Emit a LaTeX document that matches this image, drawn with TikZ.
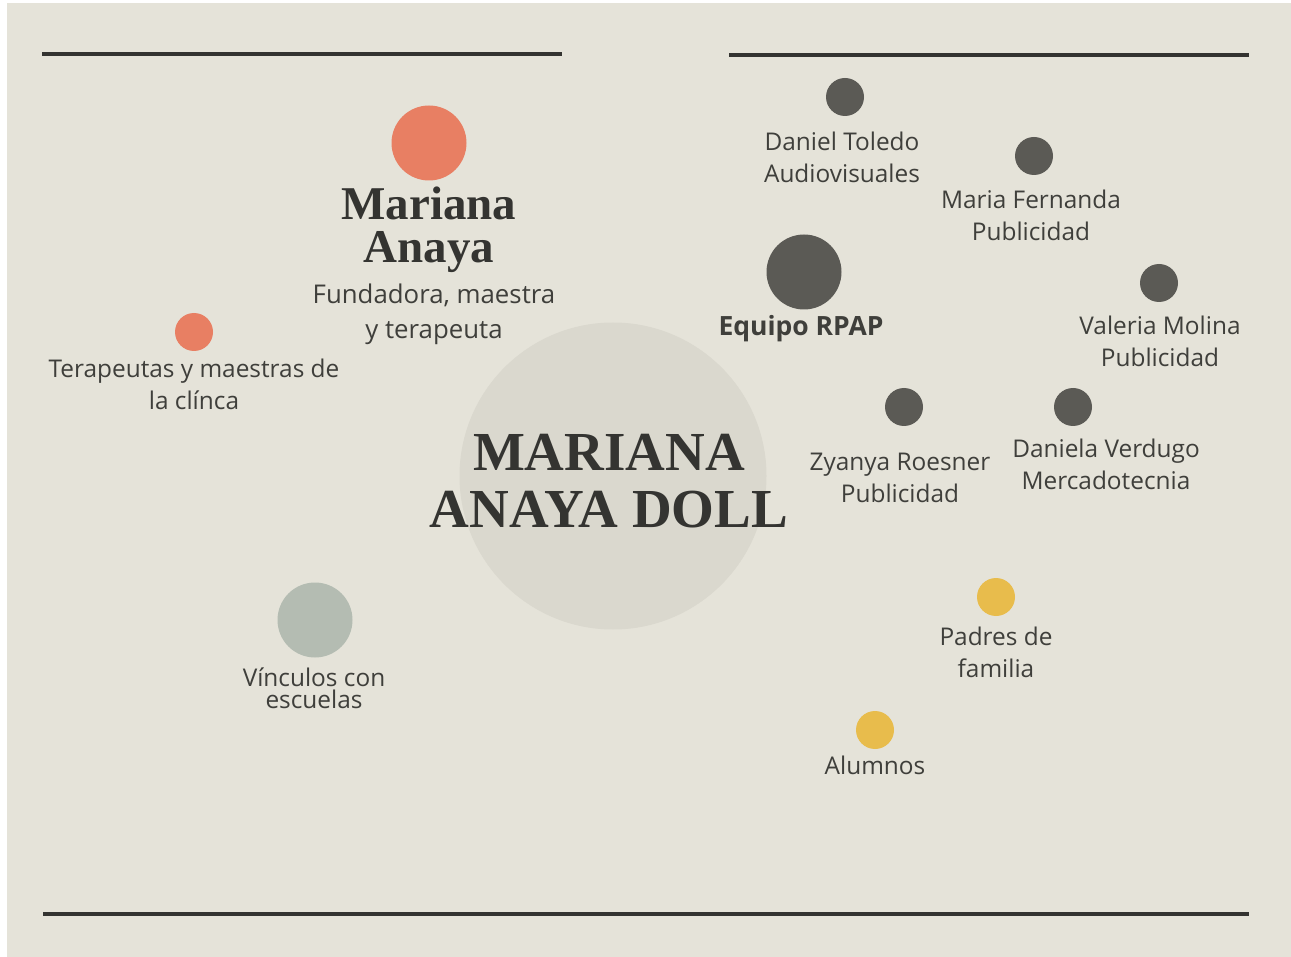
\documentclass[tikz,border=0pt]{standalone}
\usepackage{fontspec}
\setmainfont{Open Sans}
\newfontfamily\serifbold{Liberation Serif}[BoldFont={* Bold}]

\definecolor{paper}{HTML}{E5E3D9}
\definecolor{halo}{HTML}{DAD8CE}
\definecolor{coral}{HTML}{E87F63}
\definecolor{slate}{HTML}{5B5A55}
\definecolor{sage}{HTML}{B4BCB2}
\definecolor{mustard}{HTML}{E8BC4C}
\definecolor{ink}{HTML}{3F3F3B}
\definecolor{rule}{HTML}{343431}

\begin{document}
\begin{tikzpicture}[
    x=1pt,
    y=-1pt,
    dot/.style={
        circle,
        inner sep=0pt,
        minimum size=38pt,
        fill=slate
    },
    bigdot/.style={
        dot,
        minimum size=75pt
    },
    tag/.style={
        align=center,
        inner sep=0pt,
        text=ink,
        font=\fontsize{24.4}{32}\selectfont
    },
    title/.style={
        align=center,
        inner sep=0pt,
        text=rule,
        font=\serifbold\bfseries\fontsize{55}{57}\selectfont
    },
    divider/.style={
        draw=rule,
        line width=4pt
    }
]

% =====================
% Fondo
% =====================
\fill[white] (0,0) rectangle (1291,957);
\fill[paper] (7,3) rectangle (1291,957);
\useasboundingbox (0,0) rectangle (1291,957);

\coordinate (tl1) at (42,54);
\coordinate (tl2) at (562,54);
\coordinate (tr1) at (729,55);
\coordinate (tr2) at (1249,55);
\coordinate (bl1) at (43,914);
\coordinate (bl2) at (1249,914);
\draw[divider] (tl1) -- (tl2);
\draw[divider] (tr1) -- (tr2);
\draw[divider] (bl1) -- (bl2);

% =====================
% Centro
% =====================
\node[circle, fill=halo, minimum size=307pt, inner sep=0pt] (core) at (613,476) {};
\node[title] (name) at (609,481) {MARIANA\\ANAYA DOLL};

% =====================
% Fundadora
% =====================
\node[bigdot, fill=coral] (founderdot) at (429,143) {};
\node[title, font=\serifbold\bfseries\fontsize{47}{43}\selectfont] (founder) at (429,230) {Mariana\\Anaya};
\node[tag, font=\fontsize{25.8}{35}\selectfont] (founderrole) at (434,314) {Fundadora, maestra\\y terapeuta};

\node[dot, fill=coral] (staffdot) at (194,332) {};
\node[tag] (staff) at (194,384) {Terapeutas y maestras de\\la clínca};

\node[bigdot, fill=sage] (schooldot) at (315,620) {};
\node[tag, font=\fontsize{24.4}{22}\selectfont] (school) at (314,688) {Vínculos con\\escuelas};

% =====================
% Equipo RPAP
% =====================
\node[bigdot] (teamdot) at (804,272) {};
\node[tag, font=\bfseries\fontsize{26.5}{32}\selectfont] (team) at (801,329) {Equipo RPAP};

\node[dot] (danieldot) at (845,97) {};
\node[tag] (daniel) at (842,157) {Daniel Toledo\\Audiovisuales};

\node[dot] (mariadot) at (1034,156) {};
\node[tag] (maria) at (1031,215) {Maria Fernanda\\Publicidad};

\node[dot] (valeriadot) at (1159,283) {};
\node[tag] (valeria) at (1160,341) {Valeria Molina\\Publicidad};

\node[dot] (zyanyadot) at (904,407) {};
\node[tag] (zyanya) at (900,478) {Zyanya Roesner\\Publicidad};

\node[dot] (danieladot) at (1073,407) {};
\node[tag] (daniela) at (1106,464) {Daniela Verdugo\\Mercadotecnia};

% =====================
% Familias
% =====================
\node[dot, fill=mustard] (parentsdot) at (996,597) {};
\node[tag] (parents) at (996,652) {Padres de\\familia};

\node[dot, fill=mustard] (pupilsdot) at (875,730) {};
\node[tag] (pupils) at (875,765) {Alumnos};

\end{tikzpicture}
\end{document}
